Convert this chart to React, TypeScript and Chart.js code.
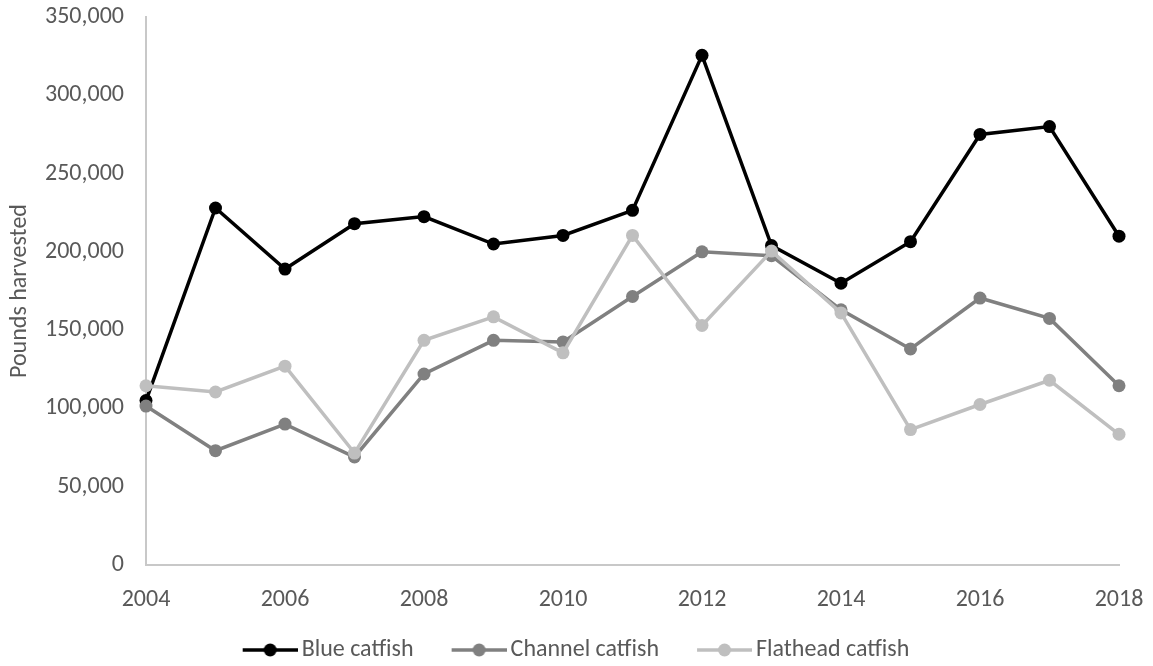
import React, { useEffect, useRef } from "react";
import { Chart, registerables } from "chart.js";

Chart.register(...registerables);

const years = [2004, 2005, 2006, 2007, 2008, 2009, 2010, 2011, 2012, 2013, 2014, 2015, 2016, 2017, 2018];
const blueCatfish = [105000, 228000, 189000, 218000, 222500, 205000, 210500, 226500, 325500, 204000, 180000, 206500, 275000, 280000, 210000];
const channelCatfish = [101500, 73000, 90000, 69000, 122000, 143500, 142500, 171500, 200000, 197500, 163000, 138000, 170500, 157500, 114500];
const flatheadCatfish = [114500, 110500, 127000, 71500, 143500, 158500, 135500, 210500, 153000, 200500, 161000, 86500, 102500, 118000, 83500];
const seriesNames = ["Blue catfish", "Channel catfish", "Flathead catfish"];
const seriesColors = ["#000000", "#808080", "#bfbfbf"];
const yTicks = [0, 50000, 100000, 150000, 200000, 250000, 300000, 350000];
const xTickYears = [2004, 2006, 2008, 2010, 2012, 2014, 2016, 2018];

const FONT = "Carlito, Lato, 'Open Sans', sans-serif";
const FS = 24;

// legend marker: a line with a dot, drawn in the right part of a wider transparent image
function markerCanvas(color: string) {
  const c = document.createElement("canvas");
  c.width = 76;
  c.height = 16;
  const ctx = c.getContext("2d")!;
  ctx.strokeStyle = color;
  ctx.lineWidth = 3.5;
  ctx.beginPath();
  ctx.moveTo(21, 8);
  ctx.lineTo(76, 8);
  ctx.stroke();
  ctx.fillStyle = color;
  ctx.beginPath();
  ctx.arc(48.5, 8, 6.5, 0, Math.PI * 2);
  ctx.fill();
  return c;
}

export default function App() {
  const ref = useRef<HTMLCanvasElement>(null);

  useEffect(() => {
    document.body.style.margin = "0";
    const allSeries = [blueCatfish, channelCatfish, flatheadCatfish];
    // reversed so that later series draw on top (like the reference)
    const datasets = [2, 1, 0].map((k) => ({
      label: seriesNames[k],
      data: years.map((yr, i) => ({ x: yr, y: allSeries[k][i] })),
      borderColor: seriesColors[k],
      backgroundColor: seriesColors[k],
      borderWidth: 3.5,
      pointRadius: 6.5,
      pointBorderWidth: 0,
      pointStyle: "circle" as const,
      tension: 0,
      clip: false as const,
    }));
    const markers = seriesColors.map((c) => markerCanvas(c));

    const chart = new Chart(ref.current!, {
      type: "line",
      data: { datasets },
      options: {
        animation: false,
        responsive: false,
        maintainAspectRatio: false,
        layout: { padding: { left: 0, right: 14, top: 0, bottom: -6 } },
        color: "#595959",
        plugins: {
          tooltip: { enabled: false },
          legend: {
            position: "bottom",
            reverse: true,
            labels: {
              color: "#595959",
              font: { family: FONT, size: FS },
              usePointStyle: true,
              pointStyleWidth: 60,
              padding: 25,
              generateLabels: (ch: any) => {
                return ch.data.datasets.map((ds: any, i: number) => {
                  const k = seriesNames.indexOf(ds.label);
                  return {
                    text: ds.label,
                    fillStyle: seriesColors[k],
                    strokeStyle: seriesColors[k],
                    lineWidth: 0,
                    pointStyle: markers[k],
                    datasetIndex: i,
                    hidden: false,
                    fontColor: "#595959",
                  };
                });
              },
            },
          },
        },
        scales: {
          x: {
            type: "linear",
            min: 2004,
            max: 2018,
            afterBuildTicks: (scale: any) => {
              scale.ticks = xTickYears.map((v) => ({ value: v }));
            },
            afterFit: (scale: any) => {
              scale.height = 48;
              scale.paddingRight = 34;
            },
            grid: { display: false, drawTicks: false },
            border: { display: true, color: "#c8c8c8", width: 2 },
            ticks: {
              color: "#595959",
              font: { family: FONT, size: FS },
              padding: 21,
              maxRotation: 0,
              callback: (v: any) => String(v),
            },
          },
          y: {
            min: 0,
            max: 350000,
            afterBuildTicks: (scale: any) => {
              scale.ticks = yTicks.map((v) => ({ value: v }));
            },
            afterFit: (scale: any) => {
              scale.width = 146;
              scale.paddingTop = 17;
              scale.paddingBottom = 0;
            },
            grid: { display: false, drawTicks: false },
            border: { display: true, color: "#c8c8c8", width: 2 },
            ticks: {
              color: "#595959",
              font: { family: FONT, size: FS },
              padding: 22,
              callback: (v: any) => Number(v).toLocaleString("en-US"),
            },
            title: {
              display: true,
              text: "Pounds harvested",
              color: "#595959",
              font: { family: FONT, size: FS },
              padding: { top: 6, bottom: 0 },
            },
          },
        },
      },
    });
    return () => chart.destroy();
  }, []);

  return (
    <div style={{ position: "absolute", left: 0, top: 0, width: 1153, height: 666 }}>
      <canvas ref={ref} width={1153} height={666} style={{ width: 1153, height: 666, display: "block" }} />
    </div>
  );
}
